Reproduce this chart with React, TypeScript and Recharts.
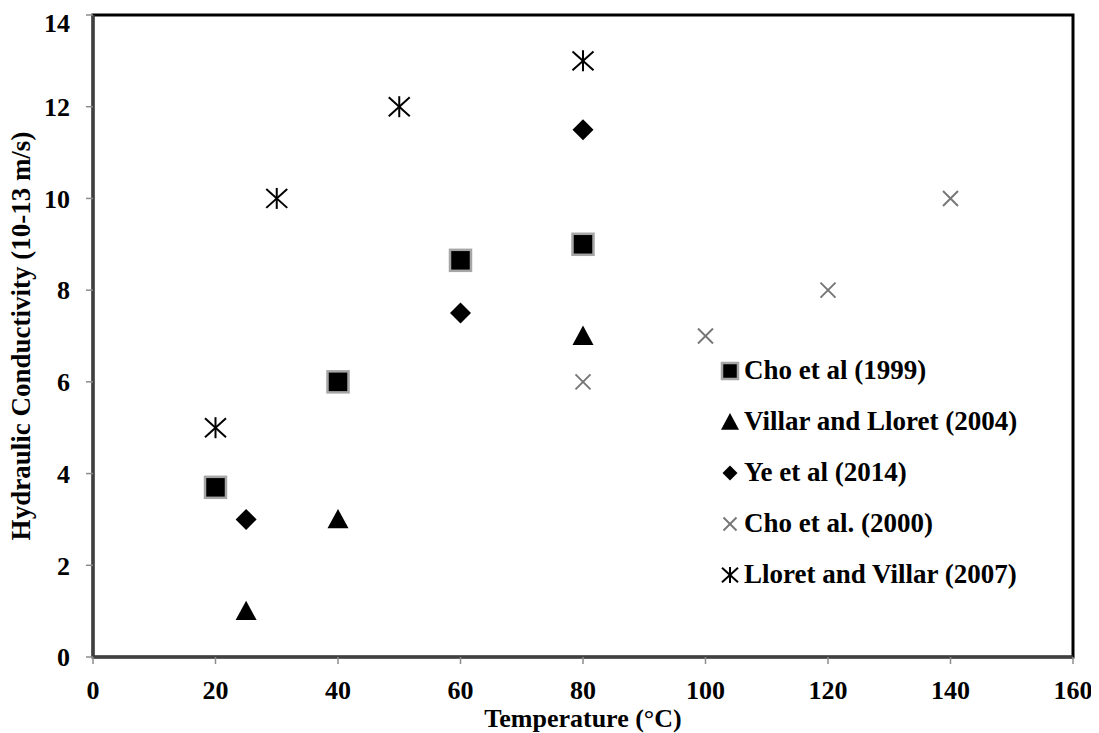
import { ScatterChart, Scatter, XAxis, YAxis, Legend, ReferenceArea } from 'recharts'

const FONT = '"Liberation Serif", "Times New Roman", Times, serif'

// values
const cho1999X = [20, 40, 60, 80]
const cho1999Y = [3.7, 6.0, 8.65, 9.0]
const villarX = [25, 40, 80]
const villarY = [1, 3, 7]
const yeX = [25, 60, 80]
const yeY = [3, 7.5, 11.5]
const cho2000X = [80, 100, 120, 140]
const cho2000Y = [6, 7, 8, 10]
const lloretX = [20, 30, 50, 80]
const lloretY = [5, 10, 12, 13]

const xTicks = [0, 20, 40, 60, 80, 100, 120, 140, 160]
const yTicks = [0, 2, 4, 6, 8, 10, 12, 14]

type Marker = 'square' | 'triangle' | 'diamond' | 'cross' | 'star'

const toPoints = (xs: number[], ys: number[]) => xs.map((x, i) => ({ x, y: ys[i] }))

const series: { name: string; marker: Marker; data: { x: number; y: number }[] }[] = [
  { name: 'Cho et al (1999)', marker: 'square', data: toPoints(cho1999X, cho1999Y) },
  { name: 'Villar and Lloret (2004)', marker: 'triangle', data: toPoints(villarX, villarY) },
  { name: 'Ye et al (2014)', marker: 'diamond', data: toPoints(yeX, yeY) },
  { name: 'Cho et al. (2000)', marker: 'cross', data: toPoints(cho2000X, cho2000Y) },
  { name: 'Lloret and Villar (2007)', marker: 'star', data: toPoints(lloretX, lloretY) },
]

function drawMarker(marker: Marker, cx: number, cy: number, s: number) {
  const h = s / 2
  switch (marker) {
    case 'square':
      return (
        <rect x={cx - h} y={cy - h} width={s} height={s} fill="#000" stroke="#a6a6a6" strokeWidth={2.5} />
      )
    case 'triangle':
      return (
        <polygon
          points={`${cx},${cy - h} ${cx + h},${cy + h * 0.85} ${cx - h},${cy + h * 0.85}`}
          fill="#000"
        />
      )
    case 'diamond':
      return <polygon points={`${cx},${cy - h} ${cx + h},${cy} ${cx},${cy + h} ${cx - h},${cy}`} fill="#000" />
    case 'cross':
      return (
        <g stroke="#777" strokeWidth={2}>
          <line x1={cx - h} y1={cy - h} x2={cx + h} y2={cy + h} />
          <line x1={cx - h} y1={cy + h} x2={cx + h} y2={cy - h} />
        </g>
      )
    case 'star':
      return (
        <g stroke="#000" strokeWidth={2}>
          <line x1={cx} y1={cy - h} x2={cx} y2={cy + h} />
          <line x1={cx - h} y1={cy - h * 0.9} x2={cx + h} y2={cy + h * 0.9} />
          <line x1={cx - h} y1={cy + h * 0.9} x2={cx + h} y2={cy - h * 0.9} />
        </g>
      )
  }
}

const plotSize: Record<Marker, number> = { square: 21, triangle: 21, diamond: 21, cross: 15, star: 21 }
const legendSize: Record<Marker, number> = { square: 16, triangle: 18, diamond: 15, cross: 13, star: 16 }

function LegendBox() {
  return (
    <div style={{ fontFamily: FONT, fontWeight: 'bold', fontSize: 27, color: '#000' }}>
      {series.map((s) => (
        <div key={s.name} style={{ display: 'flex', alignItems: 'center', height: 51, whiteSpace: 'nowrap' }}>
          <svg width={24} height={24} style={{ display: 'block' }}>
            {drawMarker(s.marker, 12, 12, legendSize[s.marker])}
          </svg>
          <span style={{ marginLeft: 2 }}>{s.name}</span>
        </div>
      ))}
    </div>
  )
}

const tickStyle = { fill: '#000', fontSize: 26, fontWeight: 'bold', fontFamily: FONT }

export default function App() {
  return (
    <ScatterChart width={1091} height={725} margin={{ top: 7, right: 26, bottom: 0, left: 0 }}>
      <ReferenceArea x1={0} x2={160} y1={0} y2={14} fill="none" stroke="#000" strokeWidth={3} ifOverflow="visible" />
      <XAxis
        type="number"
        dataKey="x"
        domain={[0, 160]}
        ticks={xTicks}
        height={76}
        tick={tickStyle}
        tickSize={7}
        tickMargin={17}
        tickLine={{ stroke: '#8c8c8c', strokeWidth: 1.5 }}
        axisLine={{ stroke: '#404040', strokeWidth: 3 }}
        label={{
          content: ({ viewBox }: any) => (
            <text
              x={viewBox.x + viewBox.width / 2}
              y={viewBox.y + 61}
              textAnchor="middle"
              dominantBaseline="central"
              style={{ fontFamily: FONT, fontWeight: 'bold', fontSize: 26, fill: '#000' }}
            >
              Temperature (°C)
            </text>
          ),
        }}
      />
      <YAxis
        type="number"
        dataKey="y"
        domain={[0, 14]}
        ticks={yTicks}
        width={85}
        tick={tickStyle}
        tickSize={7}
        tickMargin={16}
        tickLine={{ stroke: '#8c8c8c', strokeWidth: 1.5 }}
        axisLine={{ stroke: '#404040', strokeWidth: 3 }}
        label={{
          content: ({ viewBox }: any) => {
            const cx = viewBox.x + 13
            const cy = viewBox.y + viewBox.height / 2
            return (
              <text
                x={cx}
                y={cy}
                transform={`rotate(-90 ${cx} ${cy})`}
                textAnchor="middle"
                dominantBaseline="central"
                style={{ fontFamily: FONT, fontWeight: 'bold', fontSize: 27, fill: '#000' }}
              >
                Hydraulic Conductivity (10-13 m/s)
              </text>
            )
          },
        }}
      />
      <Legend
        layout="vertical"
        align="center"
        verticalAlign="middle"
        content={() => <LegendBox />}
        wrapperStyle={{ left: 710, top: 337, width: 'auto' }}
      />
      {series.map((s) => (
        <Scatter
          key={s.name}
          name={s.name}
          data={s.data}
          isAnimationActive={false}
          shape={(p: any) => drawMarker(s.marker, p.cx, p.cy, plotSize[s.marker])}
        />
      ))}
    </ScatterChart>
  )
}
